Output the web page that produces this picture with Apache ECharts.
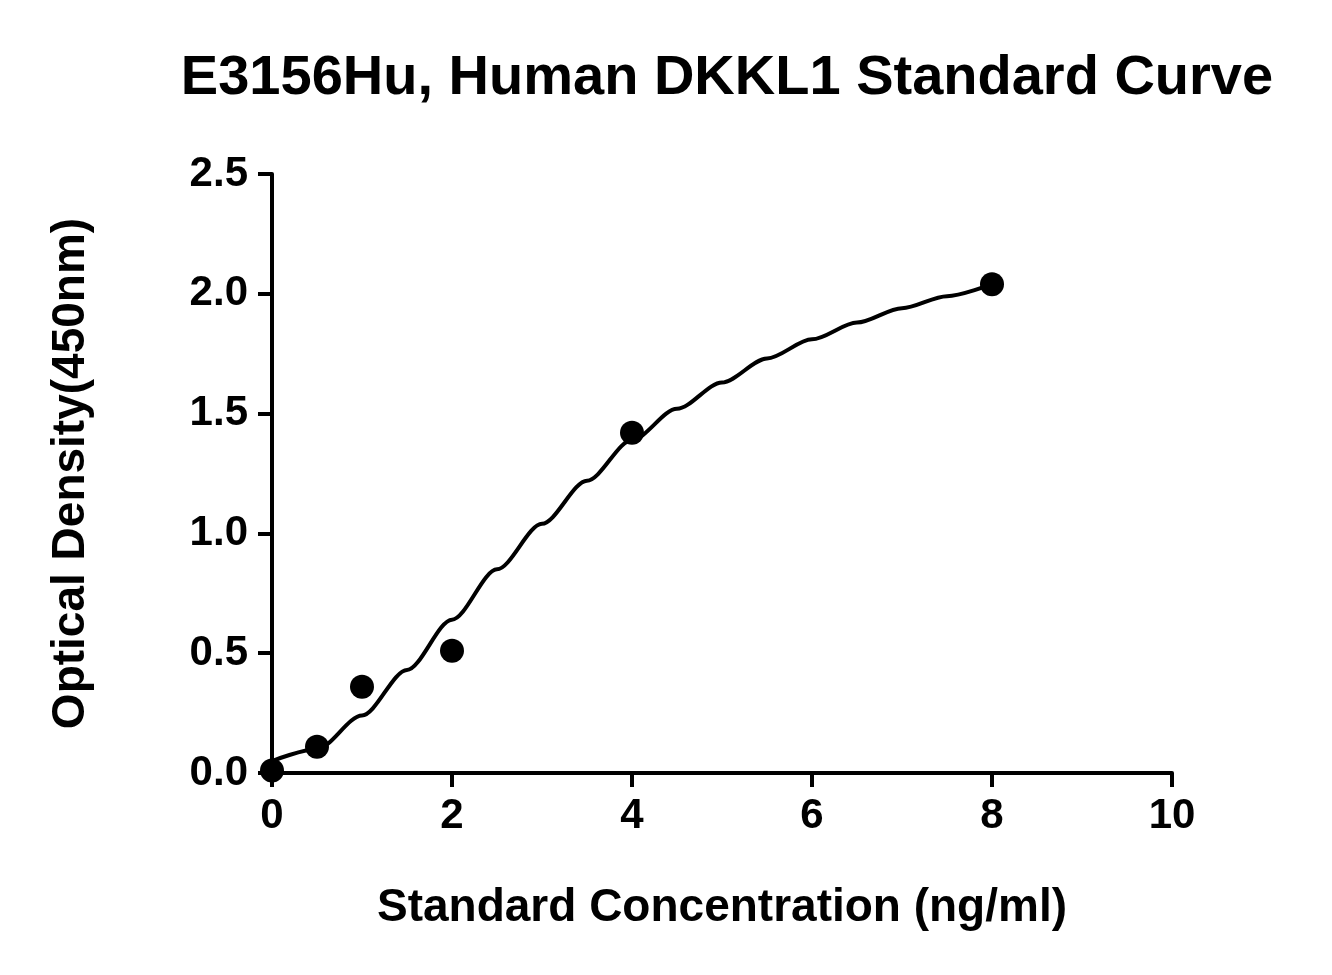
<!DOCTYPE html>
<html><head><meta charset="utf-8">
<script src="https://cdn.jsdelivr.net/npm/echarts@6/dist/echarts.min.js"></script>
<style>html,body{margin:0;background:#fff}#c{width:1332px;height:975px}</style>
</head><body><div id="c"></div>
<script>
const pointX=[0,0.5,1,2,4,8];
const pointY=[0.01,0.11,0.36,0.51,1.42,2.04];
const curveX=[0,0.5,1,1.5,2,2.5,3,3.5,4,4.5,5,5.5,6,6.5,7,7.5,8];
const curveY=[0.05,0.10,0.24,0.43,0.64,0.85,1.04,1.22,1.39,1.52,1.63,1.73,1.81,1.88,1.94,1.99,2.04];
const F='Liberation Sans, Arial, sans-serif';
const ch=echarts.init(document.getElementById('c'));
const ax={lineStyle:{color:'#000',width:4}};
ch.setOption({
 title:{text:'E3156Hu, Human DKKL1 Standard Curve',left:722,top:46,textAlign:'center',textStyle:{fontFamily:F,fontSize:56,fontWeight:'bold',color:'#000'}},
 grid:{left:272,right:160,top:174,bottom:202},
 xAxis:{type:'value',min:0,max:10,interval:2,name:'Standard Concentration (ng/ml)',nameLocation:'middle',nameGap:112,
  nameTextStyle:{fontFamily:F,fontSize:46,fontWeight:'bold',color:'#000'},
  axisLine:ax,axisTick:{show:true,length:14,lineStyle:{color:'#000',width:4}},splitLine:{show:false},
  axisLabel:{fontFamily:F,fontSize:42,fontWeight:'bold',color:'#000',margin:22}},
 yAxis:{type:'value',min:0,max:2.5,interval:0.5,name:'Optical Density(450nm)',nameLocation:'middle',nameGap:178,
  nameTextStyle:{fontFamily:F,fontSize:46,fontWeight:'bold',color:'#000'},
  axisLine:{show:true,...ax},axisTick:{show:true,length:14,lineStyle:{color:'#000',width:4}},splitLine:{show:false},
  axisLabel:{fontFamily:F,fontSize:42,fontWeight:'bold',color:'#000',margin:24,formatter:v=>v.toFixed(1)}},
 series:[
  {type:'line',data:curveX.map((x,i)=>[x,curveY[i]]),smooth:0.3,smoothMonotone:'x',showSymbol:false,lineStyle:{color:'#000',width:4},z:2},
  {type:'scatter',data:pointX.map((x,i)=>[x,pointY[i]]),symbolSize:24,itemStyle:{color:'#000',opacity:1},z:3}
 ]
});
</script></body></html>
